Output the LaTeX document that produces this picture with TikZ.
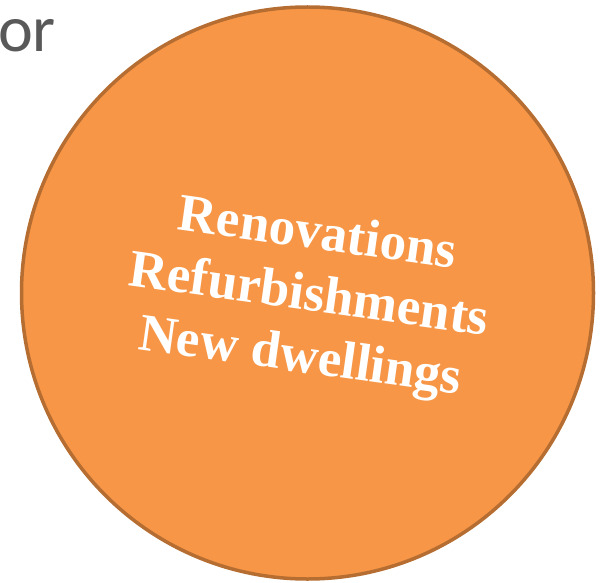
\documentclass[tikz,border=0pt]{standalone}
\usepackage{fontspec}
\usepackage{tikz}
\usepackage{xcolor}
\newfontfamily\slidefont{Carlito}
\newfontfamily\circlefont{Liberation Serif}
\definecolor{circle-orange}{HTML}{F79646}
\definecolor{circle-border}{HTML}{B66D31}
\definecolor{slide-gray}{HTML}{595959}
\tikzset{
    orange-circle/.style = {circle, draw=circle-border, fill=circle-orange, line width=3.5pt, minimum size=572pt, inner sep=0pt},
    circle-text/.style = {text=white, align=center, font=\circlefont\bfseries\fontsize{53}{62}\selectfont, rotate=-8},
    slide-text/.style = {text=slide-gray, font=\slidefont\fontsize{66}{70}\selectfont, inner sep=0pt},
}

\begin{document}
\begin{tikzpicture}[x=1pt, y=1pt]
\useasboundingbox (0,0) rectangle (602,-583);
\node [slide-text, anchor=base west] (or) at (-2,-52) {or};
\node [orange-circle] (circle) at (307.5,-293) {};
\node [circle-text] (items) at ([xshift=1pt, yshift=-5pt]circle.center) {Renovations\\Refurbishments\\New dwellings};
\end{tikzpicture}
\end{document}
